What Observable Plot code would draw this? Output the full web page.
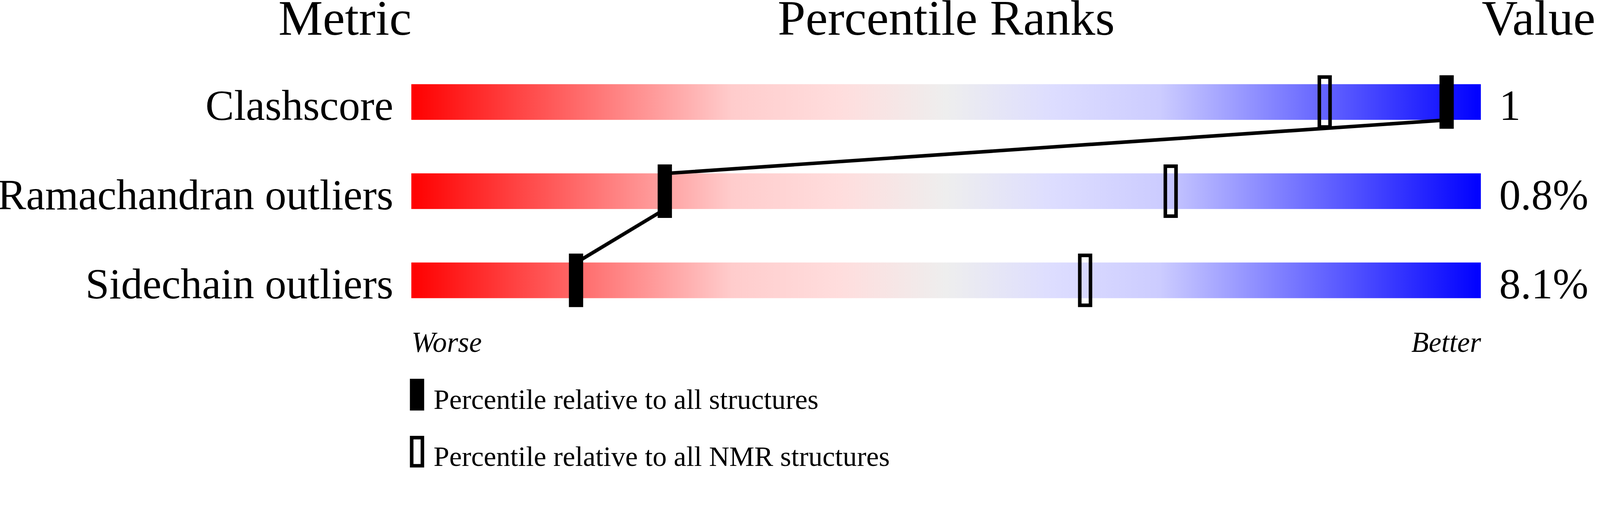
<!DOCTYPE html>
<html>
<head>
<meta charset="utf-8">
<script src="https://cdn.jsdelivr.net/npm/d3@7"></script>
<script src="https://cdn.jsdelivr.net/npm/@observablehq/plot@0.6"></script>
<style>
  html, body { margin: 0; padding: 0; background: #fff; overflow: hidden; }
</style>
</head>
<body>
<div id="chart"></div>
<script>
// ---- data ----
const metrics = ["Clashscore", "Ramachandran outliers", "Sidechain outliers"];
const pctAll = [96.8, 23.7, 15.4];     // percentile relative to all structures
const pctNMR = [85.4, 71.0, 63.0];     // percentile relative to all NMR structures
const valueLabels = ["1", "0.8%", "8.1%"];
const headers = ["Metric", "Percentile Ranks", "Value"];
const axisEnds = ["Worse", "Better"];
const legendLabels = ["Percentile relative to all structures", "Percentile relative to all NMR structures"];

// ---- layout (row units: 1 unit = distance between rows) ----
const BAR = 0.2, MARK = 0.3;
const HEAD_Y = -0.756, ENDS_Y = 2.8;
const LEG_TOP = 3.104, LEG_H = 0.356, LEG_STEP = 0.64, LEG_TEXT = 3.44;
const FONT = '"Liberation Serif", "Times New Roman", Times, serif';

const rows = metrics.map((m, i) => ({metric: m, row: i, all: pctAll[i], nmr: pctNMR[i], value: valueLabels[i]}));
const linePts = rows.flatMap(r => [{x: r.all, y: r.row - BAR}, {x: r.all, y: r.row + BAR}]);
const legend = legendLabels.map((t, i) => ({label: t, i}));

function gradientDefs() {
  const defs = d3.create("svg:defs");
  const g = defs.append("linearGradient").attr("id", "pctGrad")
    .attr("x1", "0%").attr("x2", "100%").attr("y1", "0%").attr("y2", "0%");
  [[0, "#ff0000"], [0.3, "#ffcccc"], [0.4, "#ffdddd"], [0.5, "#eeeeee"],
   [0.6, "#ddddff"], [0.7, "#ccccff"], [1, "#0000ff"]]
    .forEach(([o, c]) => g.append("stop").attr("offset", o).attr("stop-color", c));
  return defs.node();
}

const chart = Plot.plot({
  width: 4485,
  height: 1311,
  margin: 0,
  x: {domain: [0, 100], range: [1153, 4151], axis: null},
  y: {domain: [0, 2], range: [286, 786], axis: null},
  style: {fontFamily: FONT, background: "#fff", color: "#000", overflow: "visible"},
  marks: [
    gradientDefs,
    // gradient bars
    Plot.rect(rows, {x1: () => 0, x2: () => 100, y1: d => d.row - BAR, y2: d => d.row + BAR, fill: "url(#pctGrad)"}),
    // NMR percentile markers (open)
    Plot.rect(rows, {x1: "nmr", x2: "nmr", y1: d => d.row - MARK, y2: d => d.row + MARK,
      insetLeft: -15, insetRight: -15, insetTop: 5, insetBottom: 5,
      fill: "none", stroke: "#000", strokeWidth: 10}),
    // connecting line
    Plot.line(linePts, {x: "x", y: "y", stroke: "#000", strokeWidth: 10}),
    // all-structures percentile markers (filled)
    Plot.rect(rows, {x1: "all", x2: "all", y1: d => d.row - MARK, y2: d => d.row + MARK,
      insetLeft: -20, insetRight: -20, fill: "#000"}),
    // headers
    Plot.text([headers[0]], {x: () => 0, y: () => HEAD_Y, text: d => d, textAnchor: "end", lineAnchor: "bottom", fontSize: 140}),
    Plot.text([headers[1]], {x: () => 50, y: () => HEAD_Y, text: d => d, textAnchor: "middle", lineAnchor: "bottom", fontSize: 140}),
    Plot.text([headers[2]], {x: () => 100, y: () => HEAD_Y, text: d => d, textAnchor: "start", lineAnchor: "bottom", dx: 2, fontSize: 140}),
    // row labels and values
    Plot.text(rows, {x: () => 0, y: d => d.row + BAR, text: "metric", textAnchor: "end", lineAnchor: "bottom", dx: -51, fontSize: 120}),
    Plot.text(rows, {x: () => 100, y: d => d.row + BAR, text: "value", textAnchor: "start", lineAnchor: "bottom", dx: 51, fontSize: 120}),
    // worse / better
    Plot.text([axisEnds[0]], {x: () => 0, y: () => ENDS_Y, text: d => d, textAnchor: "start", lineAnchor: "bottom", fontSize: 80, fontStyle: "italic"}),
    Plot.text([axisEnds[1]], {x: () => 100, y: () => ENDS_Y, text: d => d, textAnchor: "end", lineAnchor: "bottom", fontSize: 80, fontStyle: "italic"}),
    // legend
    Plot.rect(legend.filter(d => d.i === 0), {x1: () => 0, x2: () => 0, y1: d => LEG_TOP + d.i * LEG_STEP, y2: d => LEG_TOP + d.i * LEG_STEP + LEG_H,
      insetLeft: -20, insetRight: -20, dx: 16, fill: "#000"}),
    Plot.rect(legend.filter(d => d.i === 1), {x1: () => 0, x2: () => 0, y1: d => LEG_TOP + d.i * LEG_STEP, y2: d => LEG_TOP + d.i * LEG_STEP + LEG_H,
      insetLeft: -15, insetRight: -15, insetTop: 5, insetBottom: 5, dx: 16, fill: "none", stroke: "#000", strokeWidth: 10}),
    Plot.text(legend, {x: () => 0, y: d => LEG_TEXT + d.i * LEG_STEP, text: "label", textAnchor: "start", lineAnchor: "bottom", dx: 62, fontSize: 79})
  ]
});
document.getElementById("chart").appendChild(chart);
</script>
</body>
</html>
